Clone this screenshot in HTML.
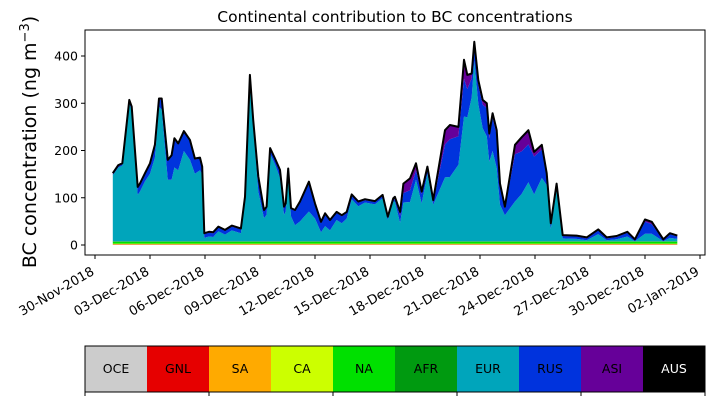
<!DOCTYPE html>
<html><head><meta charset="utf-8"><style>
body{margin:0;background:#fff;}
svg{display:block;font-family:"DejaVu Sans","Liberation Sans",sans-serif;}
</style></head><body>
<svg id="chart" width="714" height="402" viewBox="0 0 714 402">
<text x="395" y="22" text-anchor="middle" font-size="15.5">Continental contribution to BC concentrations</text>
<text transform="translate(36,142) rotate(-90)" text-anchor="middle" font-size="19">BC concentration (ng m<tspan dy="-7" font-size="13">−3</tspan><tspan dy="7">)</tspan></text>
<g id="plot"></g>
<g id="axes"></g>
<g id="cbar"></g>
</svg>
<script>
const days=[0.97,1.27,1.49,1.87,2.00,2.33,2.45,2.73,3.00,3.27,3.49,3.64,3.97,4.18,4.33,4.54,4.85,5.18,5.45,5.73,5.85,5.96,6.22,6.45,6.73,7.09,7.46,7.96,8.18,8.45,8.63,8.91,9.22,9.36,9.55,9.82,10.09,10.31,10.40,10.54,10.69,10.91,11.18,11.67,12.00,12.33,12.55,12.82,13.18,13.46,13.73,14.00,14.36,14.73,15.27,15.69,15.97,16.27,16.36,16.64,16.82,17.18,17.51,17.82,18.13,18.45,19.09,19.36,19.82,20.13,20.31,20.55,20.69,20.91,21.15,21.37,21.51,21.69,21.91,22.09,22.36,22.91,23.27,23.64,23.95,24.37,24.64,24.86,25.18,25.51,26.27,26.82,27.45,27.91,28.45,29.04,29.45,30.00,30.37,31.00,31.36,31.76];
const eurValues=[140,156,160,291,277,98,105,127,143,177,284,279,130,130,156,150,191,172,143,150,141,7,10,9,21,14,23,17,87,344,244,105,49,56,185,163,134,56,63,137,53,34,42,63,48,19,32,23,45,38,48,89,74,82,78,91,45,84,84,39,82,83,130,80,143,77,135,136,162,264,262,305,382,291,239,222,168,191,155,77,55,84,100,125,99,134,119,26,110,6,5,2,15,2,4,10,0,16,16,0,7,5];
const rusValues=[2,3,3,5,5,15,15,15,20,25,15,20,40,50,60,55,40,40,30,25,15,8,8,8,8,8,8,8,5,5,10,30,15,15,10,10,15,15,15,15,15,30,40,60,30,20,25,20,15,15,12,8,8,5,5,5,5,5,5,15,20,25,20,20,10,5,70,80,60,80,60,40,30,40,50,60,50,70,70,40,15,100,90,80,80,60,20,10,10,5,5,4,8,4,5,8,3,25,20,3,8,5];
const asiValues=[2,2,2,3,3,2,2,2,2,2,3,3,2,2,2,2,2,2,2,2,2,2,2,2,2,2,2,2,2,3,3,2,2,2,2,2,2,2,2,2,2,2,2,3,2,2,2,2,2,2,2,2,2,2,2,2,2,2,5,8,20,25,15,5,5,5,30,30,20,40,30,10,10,10,10,10,10,10,10,5,3,20,30,30,10,10,5,2,2,2,2,2,2,2,2,2,1,5,5,1,2,2];
const regions=["OCE","GNL","SA","CA","NA","AFR","EUR","RUS","ASI","AUS"];
const regionColors=["#cccccc","#e60000","#ffaa00","#ccff00","#00e000","#009a10","#00a5bb","#0033dd","#660099","#000000"];
const baseLevels=[0.5,0.5,1,1,4,1];
const yTicks=[0,100,200,300,400];
const xTickDays=[0,3,6,9,12,15,18,21,24,27,30,33];
const xTickLabels=["30-Nov-2018","03-Dec-2018","06-Dec-2018","09-Dec-2018","12-Dec-2018","15-Dec-2018","18-Dec-2018","21-Dec-2018","24-Dec-2018","27-Dec-2018","30-Dec-2018","02-Jan-2019"];

const NS="http://www.w3.org/2000/svg";
const X0=85,X1=705,Y0=30,Y1=255;
const xs=d=>95+d*18.333;
const ys=v=>245-v*0.4725;
function mk(tag,attrs,parent){const e=document.createElementNS(NS,tag);for(const k in attrs)e.setAttribute(k,attrs[k]);parent.appendChild(e);return e;}
const plot=document.getElementById('plot'),axes=document.getElementById('axes'),cbar=document.getElementById('cbar');

const n=days.length;
const layers=[];
for(let r=0;r<6;r++)layers.push(days.map(()=>baseLevels[r]));
layers.push(eurValues,rusValues,asiValues,days.map(()=>0));
let lower=days.map(()=>0);
layers.forEach((vals,r)=>{
  const upper=lower.map((v,i)=>v+vals[i]);
  let d="M"+days.map((t,i)=>xs(t).toFixed(1)+","+ys(upper[i]).toFixed(1)).join("L");
  for(let i=n-1;i>=0;i--)d+="L"+xs(days[i]).toFixed(1)+","+ys(lower[i]).toFixed(1);
  const p=mk('path',{d:d+"Z",fill:regionColors[r],stroke:"none"},plot);
  
  
  lower=upper;
});
const tl=mk('path',{d:"M"+days.map((t,i)=>xs(t).toFixed(1)+","+ys(lower[i]).toFixed(1)).join("L"),fill:"none",stroke:"#000","stroke-width":2,"stroke-linejoin":"round"},plot);



const fr=mk('rect',{x:X0,y:Y0,width:X1-X0,height:Y1-Y0,fill:"none",stroke:"#000","stroke-width":1},axes);


yTicks.forEach(v=>{
  mk('line',{x1:X0-4,x2:X0,y1:ys(v),y2:ys(v),stroke:"#000"},axes);
  const t=mk('text',{x:X0-7,y:ys(v)+4.5,"text-anchor":"end","font-size":12.5},axes);
  t.textContent=v;
  
  
});
xTickDays.forEach((d,i)=>{
  const x=xs(d);
  mk('line',{x1:x,x2:x,y1:Y1,y2:Y1+4,stroke:"#000"},axes);
  const t=mk('text',{x:0,y:0,"text-anchor":"end","font-size":13,transform:`translate(${x},${Y1+19}) rotate(-30)`},axes);
  t.textContent=xTickLabels[i];
  
  
});

const cw=(705-85)/regions.length;
regions.forEach((r,i)=>{
  const c=mk('rect',{x:85+i*cw,y:346,width:cw+0.5,height:46,fill:regionColors[i]},cbar);
  
  
  const t=mk('text',{x:85+i*cw+cw/2,y:373,"text-anchor":"middle","font-size":12.5,fill:r==="AUS"?"#fff":"#000"},cbar);
  t.textContent=r;
  
  
});
mk('rect',{x:85,y:346,width:620,height:46,fill:"none",stroke:"#000"},cbar);
[0,2,4,6,8,10].forEach(k=>mk('line',{x1:85+k*cw,x2:85+k*cw,y1:392,y2:396,stroke:"#000"},cbar));
</script>
</body></html>
